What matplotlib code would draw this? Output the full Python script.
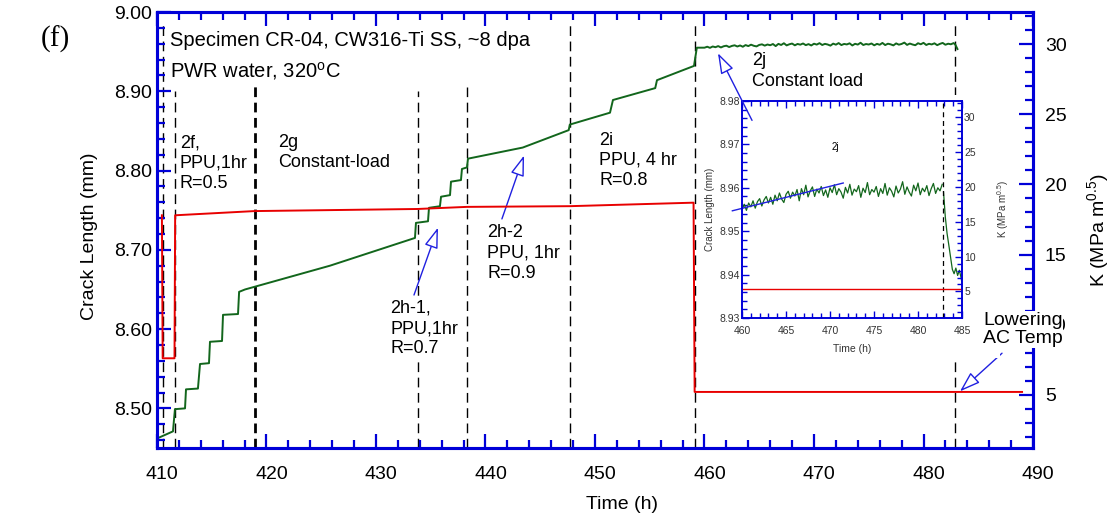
import matplotlib.pyplot as plt
import numpy as np
from matplotlib.ticker import MultipleLocator, FormatStrFormatter
from matplotlib.transforms import ScaledTranslation

plt.rcParams['font.family'] = ['Liberation Sans', 'DejaVu Sans']
plt.rcParams['mathtext.default'] = 'regular'

BLUE = '#0000d8'
GREEN = '#12661c'
RED = '#e80000'

# crack length (mm), staircase part up to the constant-load period
green_t = [410.0, 411.46, 411.64, 412.56, 412.65, 413.74, 413.93, 414.75, 414.84,
           415.94, 416.03, 417.4, 417.5, 418.04, 425.8, 433.56, 433.65, 434.75,
           434.84, 435.84, 435.94, 436.76, 436.85, 437.76, 437.85, 438.31, 438.4,
           443.4, 447.6, 447.7, 451.37, 451.64, 455.5, 455.66, 459.04, 459.3]
green_v = [8.462, 8.471, 8.499, 8.500, 8.524, 8.525, 8.556, 8.557, 8.584,
           8.585, 8.618, 8.619, 8.647, 8.650, 8.680, 8.715, 8.734, 8.736,
           8.753, 8.755, 8.767, 8.769, 8.786, 8.788, 8.802, 8.804, 8.815,
           8.829, 8.851, 8.858, 8.873, 8.889, 8.904, 8.914, 8.932, 8.955]

# constant load period (2j), sampled every 0.25 h from 460 h
cl_t0 = 460.0
cl_dt = 0.25
cl_v = [8.9550, 8.9562, 8.9548, 8.9565, 8.9556, 8.9570, 8.9553, 8.9568, 8.9575, 8.9558, 8.9572, 8.9580,
        8.9565, 8.9578, 8.9562, 8.9583, 8.9570, 8.9588, 8.9574, 8.9566, 8.9585, 8.9592, 8.9576, 8.9590,
        8.9581, 8.9596, 8.9570, 8.9598, 8.9584, 8.9606, 8.9579, 8.9593, 8.9602, 8.9580, 8.9597, 8.9588,
        8.9603, 8.9582, 8.9595, 8.9578, 8.9600, 8.9589, 8.9607, 8.9584, 8.9598, 8.9590, 8.9576, 8.9601,
        8.9588, 8.9608, 8.9583, 8.9597, 8.9591, 8.9605, 8.9578, 8.9599, 8.9589, 8.9612, 8.9584, 8.9596,
        8.9590, 8.9603, 8.9580, 8.9598, 8.9587, 8.9610, 8.9583, 8.9600, 8.9592, 8.9579, 8.9604, 8.9588,
        8.9597, 8.9614, 8.9585, 8.9602, 8.9590, 8.9581, 8.9606, 8.9593, 8.9611, 8.9584, 8.9599, 8.9591,
        8.9605, 8.9582, 8.9598, 8.9610, 8.9587, 8.9600, 8.9593, 8.9608]
# lowering of the autoclave temperature
drop_t = [482.9, 483.1, 483.3, 483.5, 483.7, 483.9, 484.1, 484.3, 484.5, 484.7, 484.9, 485.0]
drop_v = [8.9590, 8.9533, 8.9495, 8.9468, 8.9440, 8.9412, 8.9402, 8.9415, 8.9398, 8.9410, 8.9392, 8.9380]

# stress intensity K (MPa m^0.5)
red_t = [410.45, 410.52, 411.6, 411.66, 418.9, 433.8, 438.3, 447.7, 459.0, 459.1, 489.0]
red_k = [17.8, 7.6, 7.6, 17.8, 18.1, 18.25, 18.4, 18.45, 18.7, 5.2, 5.2]
inset_red_t = [460.0, 485.0]
inset_red_k = [5.3, 5.3]

# phase boundaries (h), top of each dashed line (mm), bold or not
phase_t = [410.55, 411.64, 418.95, 433.8, 438.35, 447.7, 459.1, 482.9]
phase_top = [8.985, 8.90, 8.985, 8.90, 8.905, 8.985, 8.985, 8.985]
phase_bold = [False, False, True, False, False, False, False, False]

labels = [
    ('2f,\nPPU,1hr\nR=0.5', 412.1, 8.846),
    ('2g\nConstant-load', 421.05, 8.846),
    ('2h-1,\nPPU,1hr\nR=0.7', 431.28, 8.637),
    ('2h-2\nPPU, 1hr\nR=0.9', 440.14, 8.732),
    ('2i\nPPU, 4 hr\nR=0.8', 450.37, 8.849),
    ('2j\nConstant load', 464.34, 8.949),
]
arrows = [  # (tail, head) in (h, mm)
    ((433.47, 8.643), (435.66, 8.728)),
    ((441.5, 8.739), (443.52, 8.819)),
    ((487.17, 8.5696), (483.33, 8.5215)),
]

cl_t = cl_t0 + cl_dt * np.arange(len(cl_v))
all_t = np.concatenate([green_t, cl_t, drop_t])
all_v = np.concatenate([green_v, cl_v, drop_v])
main_mask = all_t <= 483.1

fig = plt.figure(figsize=(11.11, 5.29), dpi=100)
ax = fig.add_axes([0.1413, 0.1531, 0.7885, 0.8242])
ax.plot(all_t[main_mask], all_v[main_mask], color=GREEN, lw=1.4, zorder=3)
for x, top, bold in zip(phase_t, phase_top, phase_bold):
    if bold:
        ax.vlines(x, 8.45, top, colors='black', linestyles=(0, (3.5, 2)), lw=2, zorder=1)
    else:
        ax.vlines(x, 8.45, top, colors='black', linestyles=(0, (7, 4)), lw=1, zorder=1)
ax.set_xlim(410, 490)
ax.set_ylim(8.45, 9.00)
ax.xaxis.set_major_locator(MultipleLocator(10))
ax.xaxis.set_minor_locator(MultipleLocator(2))
ax.yaxis.set_major_locator(MultipleLocator(0.1))
ax.yaxis.set_minor_locator(MultipleLocator(0.02))
ax.yaxis.set_major_formatter(FormatStrFormatter('%.2f'))
ax.tick_params(which='both', direction='in', color=BLUE, labelcolor='black', width=1.6, labelsize=14)
ax.tick_params(which='major', length=10)
ax.tick_params(which='minor', length=6)
ax.tick_params(axis='x', which='both', top=True, pad=13)
ax.tick_params(axis='y', which='both', right=False, pad=3.5)
ax.set_xlabel('Time (h)', fontsize=14)
ax.set_ylabel('Crack Length (mm)', fontsize=14)
ax.xaxis.set_label_coords(0.531, -0.11)
ax.yaxis.set_label_coords(-0.0674, 0.486)
# x tick labels sit a few pixels right of their ticks in the original
for lab in ax.get_xticklabels():
    lab.set_transform(lab.get_transform() + ScaledTranslation(0.05, 0, fig.dpi_scale_trans))

for s, x, y in labels:
    ax.text(x, y, s, fontsize=13, va='top', ha='left', linespacing=1.25,
            bbox=dict(fc='white', ec='none', pad=0), zorder=4)
ax.text(411.19, 8.9646, 'Specimen CR-04, CW316-Ti SS, ~8 dpa', fontsize=14.5, va='center',
        bbox=dict(fc='white', ec='none', pad=3), zorder=4)
ax.text(411.19, 8.925, 'PWR water, 320$^{o}$C', fontsize=14.5, va='center',
        bbox=dict(fc='white', ec='none', pad=3), zorder=4)
for tail, head in arrows:
    ax.annotate('', xy=head, xytext=tail, annotation_clip=False,
                arrowprops=dict(arrowstyle='-|>,head_length=0.9,head_width=0.3', fc='white',
                                ec='#2020e0', lw=1, shrinkA=0, shrinkB=0, mutation_scale=14))

ax2 = ax.twinx()
ax2.plot(red_t, red_k, color=RED, lw=1.4)
ax2.set_ylim(1.2, 32.3)
ax2.yaxis.set_major_locator(MultipleLocator(5))
ax2.yaxis.set_minor_locator(MultipleLocator(1))
ax2.tick_params(which='both', direction='in', color=BLUE, labelcolor='black', width=1.6,
                labelsize=14, pad=8.5)
ax2.tick_params(which='major', length=10)
ax2.tick_params(which='minor', length=6)
ax2.set_ylabel('K (MPa m$^{0.5}$)', fontsize=14)
ax2.yaxis.set_label_coords(1.0596, 0.5)
for a in (ax, ax2):
    for sp in a.spines.values():
        sp.set_color(BLUE)
        sp.set_linewidth(2.2)

fig.text(485.43, 8.622, 'Lowering\nAC Temp', transform=ax.transData, fontsize=14, va='top',
         ha='left', linespacing=1.1, zorder=5, bbox=dict(fc='white', ec='none', pad=0.5))
fig.text(0.05, 0.925, '(f)', family='Liberation Serif', fontsize=21, ha='center', va='center')

# white area behind the inset
fig.patches.append(plt.Rectangle((0.630, 0.323), 0.27, 0.497, transform=fig.transFigure,
                                 fc='white', ec='none', zorder=1))

ins = fig.add_axes([0.6679, 0.3989, 0.1980, 0.4102])
ins.set_zorder(2)
ins.plot(cl_t, cl_v, color=GREEN, lw=0.9)
ins.plot(drop_t, drop_v, color=GREEN, lw=0.9)
ins.axvline(482.8, color='black', ls=(0, (4, 3)), lw=0.9)
ins.plot([458.9, 471.5], [8.9547, 8.9611], color='#2020e0', lw=1, clip_on=False)
ins.text(470.6, 8.9694, '2j', fontsize=7, ha='center', va='center')
ins.set_xlim(460, 485)
ins.set_ylim(8.93, 8.98)
ins.xaxis.set_major_locator(MultipleLocator(5))
ins.xaxis.set_minor_locator(MultipleLocator(1))
ins.yaxis.set_major_locator(MultipleLocator(0.01))
ins.yaxis.set_minor_locator(MultipleLocator(0.002))
ins.yaxis.set_major_formatter(FormatStrFormatter('%.2f'))
ins.tick_params(which='both', direction='in', color=BLUE, labelcolor='#333333', width=1, labelsize=7.5)
ins.tick_params(which='major', length=5)
ins.tick_params(which='minor', length=3.5)
ins.tick_params(axis='x', which='both', top=True, pad=6)
ins.tick_params(axis='y', which='both', right=False, pad=1.5)
ins.set_xlabel('Time (h)', fontsize=7.5, color='#333333')
ins.set_ylabel('Crack Length (mm)', fontsize=7, color='#333333')
ins.xaxis.set_label_coords(0.5, -0.12)
ins.yaxis.set_label_coords(-0.125, 0.5)

ins2 = ins.twinx()
ins2.set_zorder(2)
ins2.patch.set_visible(False)
ins2.plot(inset_red_t, inset_red_k, color=RED, lw=1)
ins2.set_ylim(1.2, 32.3)
ins2.yaxis.set_major_locator(MultipleLocator(5))
ins2.yaxis.set_minor_locator(MultipleLocator(1))
ins2.tick_params(which='both', direction='in', color=BLUE, labelcolor='#333333', width=1,
                 labelsize=7.5, pad=1.5)
ins2.tick_params(which='major', length=5)
ins2.tick_params(which='minor', length=3.5)
ins2.set_ylabel('K (MPa m$^{0.5}$)', fontsize=7, color='#333333')
ins2.yaxis.set_label_coords(1.15, 0.5)
for a in (ins, ins2):
    for sp in a.spines.values():
        sp.set_color(BLUE)
        sp.set_linewidth(1.2)

# arrow from the 2j label, drawn over the inset
ins2.annotate('', xy=(461.23, 8.948), xytext=(464.34, 8.8633), xycoords=ax.transData,
              textcoords=ax.transData, annotation_clip=False,
              arrowprops=dict(arrowstyle='-|>,head_length=0.9,head_width=0.3', fc='white',
                              ec='#2020e0', lw=1, shrinkA=0, shrinkB=0, mutation_scale=14))

fig.savefig('out.png', dpi=100)
